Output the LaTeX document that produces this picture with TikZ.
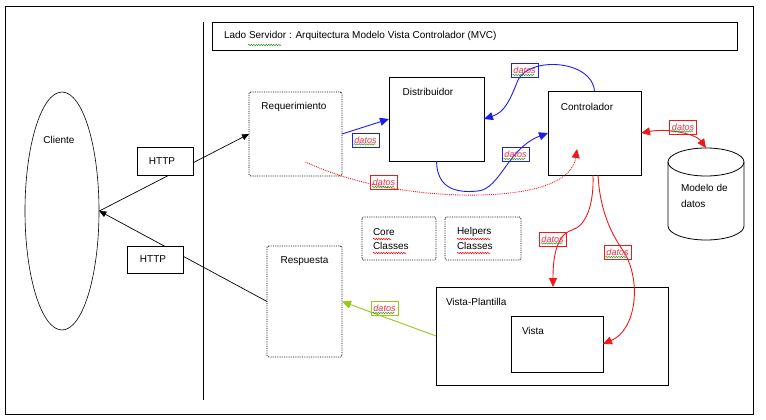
\documentclass[tikz,border=0pt]{standalone}
\usepackage{fontspec}
\setmainfont{Liberation Sans}
\usetikzlibrary{arrows.meta,shapes.geometric,calc,decorations.pathmorphing}
\definecolor{blu}{RGB}{30,30,235}
\definecolor{rd}{RGB}{240,25,25}
\definecolor{grn}{RGB}{150,200,20}
\definecolor{tagtxt}{RGB}{235,45,70}
\definecolor{sqg}{RGB}{40,150,40}
\begin{document}
\begin{tikzpicture}[x=1pt,y=-1pt,font=\fontsize{10}{12}\selectfont,
  box/.style={draw,line width=0.8pt,inner sep=0,outer sep=0},
  dotbox/.style={draw,densely dotted,line width=0.8pt,rounded corners=1.5pt,inner sep=0,outer sep=0},
  txt/.style={inner sep=0,outer sep=0},
  tag/.style={draw=#1,line width=0.8pt,inner sep=0,minimum width=27pt,minimum height=14pt,
    font=\fontsize{9}{10}\selectfont\itshape,text=tagtxt},
  harrow/.style={line width=0.7pt,-{Triangle[length=7pt,width=6pt]}},
  bluarrow/.style={blu,line width=0.9pt,-{Triangle[length=9pt,width=8pt]}},
  redarrow/.style={rd,line width=0.9pt,-{Triangle[length=9pt,width=8pt]}},
  squig/.style={#1,line width=0.5pt,decorate,decoration={snake,amplitude=0.7pt,segment length=2.5pt}}]
\useasboundingbox (0,0) rectangle (766,420);
% frame
\node[box,minimum width=748pt,minimum height=408pt] (frame) at (379,210) {};
\coordinate (vtop) at (203,22);
\coordinate (vbot) at (203,400);
\draw[line width=0.8pt] (vtop) -- (vbot);
% title
\node[box,minimum width=525pt,minimum height=28pt] (title) at (474.5,36) {};
\node[txt,anchor=west] (titletxt) at (224,36) {Lado Servidor : Arquitectura Modelo Vista Controlador (MVC)};
\coordinate (sq1a) at (248,45); \coordinate (sq1b) at (281,45);
\draw[squig=sqg] (sq1a) -- (sq1b);
% client
\node[draw,ellipse,line width=0.6pt,minimum width=74pt,minimum height=238pt,inner sep=0] (cliente) at (62,211) {};
\node[txt] (clientetxt) at (59,140) {Cliente};
% boxes
\node[dotbox,minimum width=93pt,minimum height=84pt] (req) at (295.5,134) {};
\node[txt] (reqtxt) at (294,107) {Requerimiento};
\node[box,minimum width=95pt,minimum height=84pt] (dist) at (436.5,119) {};
\node[txt] (disttxt) at (428,92) {Distribuidor};
\node[box,minimum width=93pt,minimum height=84pt] (ctrl) at (594.5,133) {};
\node[txt] (ctrltxt) at (587,107) {Controlador};
\node[dotbox,minimum width=74pt,minimum height=43pt] (core) at (399,238.5) {};
\node[txt,anchor=west] (coretxt1) at (373,232) {Core};
\node[txt,anchor=west] (coretxt2) at (373,246) {Classes};
\node[dotbox,minimum width=76pt,minimum height=43pt] (helpers) at (483,238.5) {};
\node[txt,anchor=west] (helptxt1) at (457,232) {Helpers};
\node[txt,anchor=west] (helptxt2) at (457,246) {Classes};
\coordinate (s2a) at (373,239); \coordinate (s2b) at (391,239);
\coordinate (s3a) at (373,253); \coordinate (s3b) at (406,253);
\coordinate (s4a) at (457,239); \coordinate (s4b) at (490,239);
\coordinate (s5a) at (457,253); \coordinate (s5b) at (490,253);
\draw[squig=red] (s2a) -- (s2b);
\draw[squig=red] (s3a) -- (s3b);
\draw[squig=red] (s4a) -- (s4b);
\draw[squig=red] (s5a) -- (s5b);
\node[dotbox,minimum width=75pt,minimum height=111pt] (resp) at (304.5,301.5) {};
\node[txt] (resptxt) at (304.5,261) {Respuesta};
\node[box,minimum width=232pt,minimum height=98pt] (vp) at (552,336) {};
\node[txt,anchor=west] (vptxt) at (446,302) {Vista-Plantilla};
\node[box,minimum width=92pt,minimum height=56pt] (vista) at (557,344) {};
\node[txt,anchor=west] (vistatxt) at (522,331) {Vista};
% database
\node[inner sep=0,outer sep=0,minimum width=76pt,minimum height=92pt] (db) at (706,194) {};
\draw[line width=0.8pt] (706,162) ellipse [x radius=38, y radius=14];
\draw[line width=0.8pt] (668,162) -- (668,226) arc[start angle=180,end angle=0,x radius=38,y radius=14] -- (744,162);
\node[txt,anchor=west] (dbtxt1) at (681,188) {Modelo de};
\node[txt,anchor=west] (dbtxt2) at (681,204) {datos};
% client connectors
\draw[harrow] (cliente.east) -- (req.west);
\draw[harrow] (resp.west) -- (cliente.east);
\node[box,fill=white,minimum width=56pt,minimum height=28pt] (http1) at (165,161) {};
\node[txt] (http1txt) at (162,161) {HTTP};
\node[box,fill=white,minimum width=56pt,minimum height=27pt] (http2) at (155,259.5) {};
\node[txt] (http2txt) at (153,259.5) {HTTP};
% blue
\draw[bluarrow] (req.east) -- (dist.west);
\draw[bluarrow] (dist.south) .. controls (437,190) and (458,193) .. (478,191)
  .. controls (500,189) and (508,148) .. (ctrl.west);
\draw[bluarrow] (ctrl.north) .. controls (592,60) and (530,56) .. (518,80)
  .. controls (510,100) and (505,112) .. (dist.east);
% red dotted
\coordinate (rstart) at ($(req.south)+(10,-14)$);
\coordinate (rend) at ($(ctrl.south west)+(29,-26)$);
\draw[rd,densely dotted,line width=0.9pt,-{Triangle[length=9pt,width=8pt]}] (rstart)
  .. controls (370,192) and (450,198) .. (500,194) .. controls (550,190) and (573,176) .. (rend);
% red
\draw[rd,line width=0.9pt,{Triangle[length=9pt,width=8pt]}-{Triangle[length=9pt,width=8pt]}]
  (ctrl.east) .. controls (668,128) and (696,134) .. (db.north);
\coordinate (c1) at ($(ctrl.south)+(-1.5,0)$);
\coordinate (c2) at ($(ctrl.south)+(3.5,0)$);
\coordinate (vpin) at ($(vp.north)+(1,0)$);
\draw[redarrow] (c1) .. controls (594,205) and (586,226) .. (572,230)
  .. controls (556,235) and (553,258) .. (vpin);
\draw[redarrow] (c2) .. controls (600,212) and (612,235) .. (624,252)
  .. controls (642,282) and (636,330) .. (vista.east);
% green
\draw[grn,line width=0.9pt,-{Triangle[length=9pt,width=8pt]}] (vp.west) -- (resp.east);
% tags
\node[tag=blu] (t1) at (365.5,140) {datos};
\node[tag=blu] (t2) at (524.5,70.5) {datos};
\node[tag=blu] (t3) at (515.5,154.5) {datos};
\node[tag=rd] (t4) at (384,182.5) {datos};
\node[tag=rd] (t5) at (683,127) {datos};
\node[tag=rd] (t6) at (552.5,239) {datos};
\node[tag=rd] (t7) at (617.5,252.5) {datos};
\node[tag=grn] (t8) at (384.5,308.5) {datos};
\foreach \t in {t1,t2,t3,t4,t5,t6,t7,t8}{
  \draw[squig=sqg] ($(\t.south west)+(2,-3)$) -- ($(\t.south east)+(-4,-3)$);
}
\end{tikzpicture}
\end{document}
